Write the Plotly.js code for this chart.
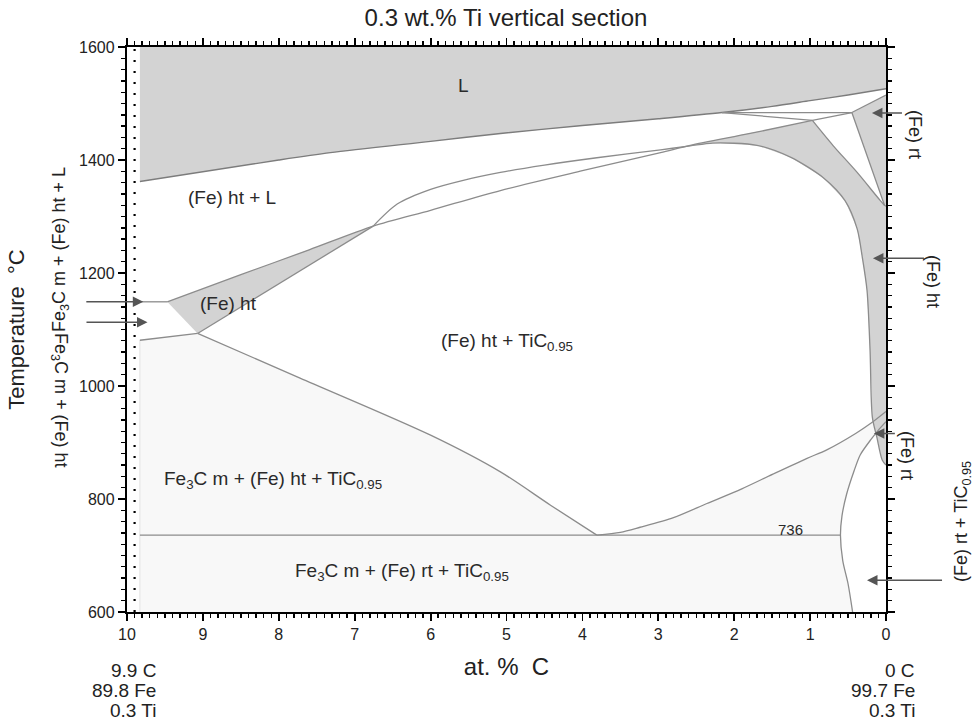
<!DOCTYPE html>
<html>
<head>
<meta charset="utf-8">
<script src="https://cdn.plot.ly/plotly-3.0.1.min.js"></script>
<style>html,body{margin:0;padding:0;background:#fff;}#chart{width:974px;height:725px;}</style>
</head>
<body>
<div id="chart"></div>
<script>
// ---------- data (at.% C , temperature °C) ----------
const liqX = [9.83, 8.0, 7.32, 6.0, 5.08, 4.0, 3.0, 2.16, 1.5, 1.0, 0.5, 0.0];
const liqT = [1362, 1400, 1413, 1433, 1447, 1461, 1473, 1484, 1495, 1505, 1515, 1526];
const topT = 1600;
const leftX = 9.83;

const eutX = [9.83, 9.47];           // 1148 line
const eutT = [1149, 1149];

const solX = [9.47, 8.5, 7.6, 6.756, 6.0, 5.08, 4.0, 2.97, 2.58, 1.79, 0.97];
const solT = [1149, 1197, 1241, 1283, 1311, 1346, 1381, 1413, 1426, 1447, 1470];

const wedgeLowX = [9.07, 6.756];
const wedgeLowT = [1093, 1283];

const arcX = [6.756, 6.44, 6.0, 5.57, 5.08, 4.5, 3.81, 2.97, 2.58, 2.28, 1.70, 1.26, 0.83, 0.54, 0.38, 0.31, 0.25, 0.21, 0.18, 0.12, 0.05, 0.0];
const arcT = [1283, 1322, 1348, 1364, 1378, 1391, 1404, 1418, 1425, 1430, 1426, 1405, 1369, 1328, 1278, 1226, 1169, 1063, 945, 909, 869, 860];

const periX = [2.16, 0.45];
const periT = [1484, 1484];
const sliverX = [2.16, 0.97, 0.45];
const sliverT = [1484, 1470, 1484];
const deltaTopX = [0.45, 0.0];
const deltaTopT = [1484, 1515];
const deltaLeftX = [0.45, 0.02, 0.0];
const deltaLeftT = [1484, 1320, 1318];
const whiteTriX = [0.97, 0.70, 0.38, 0.08, 0.02];
const whiteTriT = [1470, 1426, 1378, 1329, 1320];

const l1X = [9.83, 9.07];
const l1T = [1081, 1093];
const l2X = [9.07, 7.72, 6.0, 5.08, 4.42, 3.81];
const l2T = [1093, 1014, 913, 848, 789, 736];
const eutectoidX = [9.83, 0.6];
const eutectoidT = [736, 736];
const pX = [3.81, 3.5, 3.24, 2.8, 2.36, 1.9, 1.49, 1.04, 0.78, 0.4, 0.2, 0.0];
const pT = [736, 741, 750, 767, 792, 818, 844, 872, 887, 916, 934, 955];
const qX = [0.44, 0.5, 0.57, 0.6, 0.58, 0.52, 0.42, 0.34, 0.2, 0.1, 0.0];
const qT = [600, 650, 691, 736, 770, 808, 850, 878, 905, 922, 937];

const sectionX = 9.9;   // dotted line

// region labels
const labText = ['L', '(Fe) ht + L', '(Fe) ht', '(Fe) ht + TiC<sub>0.95</sub>',
  'Fe<sub>3</sub>C m + (Fe) ht + TiC<sub>0.95</sub>', 'Fe<sub>3</sub>C m + (Fe) rt + TiC<sub>0.95</sub>', '736'];
const labX = [5.57, 8.62, 8.66, 5.0, 8.08, 6.38, 1.26];
const labT = [1532, 1333, 1146, 1078, 833, 670, 746];

// arrows: tip in data coords, tail offset in px
const arrX = [0.185, 0.172, 0.16, 0.25, 9.785, 9.73];
const arrT = [1483, 1226, 916, 656, 1149, 1113];
const arrDx = [33, 54, 24, 78, -60, -64];

// ---------- helpers ----------
const rev = a => a.slice().reverse();
const GRAY = 'rgb(211,211,211)';
const LINE = '#8c8c8c';
const FONT = 'Liberation Sans, Arial, sans-serif';

const traces = [];
function poly(xs, ys, color) {
  traces.push({x: xs, y: ys, type: 'scatter', mode: 'lines', fill: 'toself', fillcolor: color,
    line: {width: 0, color: color}, hoverinfo: 'skip', showlegend: false});
}
function line(xs, ys, opts) {
  opts = opts || {};
  traces.push({x: xs, y: ys, type: 'scatter', mode: 'lines',
    line: {width: opts.w || 1.3, color: opts.c || LINE, dash: opts.dash || 'solid',
           shape: opts.smooth ? 'spline' : 'linear', smoothing: 0.8},
    hoverinfo: 'skip', showlegend: false});
}

// faint three-phase region
poly([leftX].concat(l1X, l2X.slice(1), pX.slice(1), rev(qX)),
     [600].concat(l1T, l2T.slice(1), pT.slice(1), rev(qT)), '#f8f8f8');
// L
poly([leftX, 0].concat(rev(liqX)), [topT, topT].concat(rev(liqT)), GRAY);
// (Fe) ht wedge
poly(solX.slice(0, 4).concat(rev(wedgeLowX)), solT.slice(0, 4).concat(rev(wedgeLowT)), GRAY);
// (Fe) ht band
const cross = 8; // index of 2.58 in solX and arcX
poly(solX.slice(cross).concat(whiteTriX.slice(1), [0, 0], rev(arcX.slice(cross, arcX.length - 1))),
     solT.slice(cross).concat(whiteTriT.slice(1), [1318, 860], rev(arcT.slice(cross, arcT.length - 1))), GRAY);
// (Fe) rt high-T triangle
poly([0.45, 0, 0, 0.02], [1484, 1515, 1318, 1320], GRAY);

// boundaries
line([leftX, leftX], [600, 1081], {c: '#e2e2e2', w: 1});
line(liqX, liqT, {c: '#7c7c7c', w: 1.4, smooth: true});
line(eutX, eutT);
line(solX, solT, {smooth: true});
line(wedgeLowX, wedgeLowT);
line(arcX, arcT, {smooth: true});
line(periX, periT);
line(sliverX, sliverT);
line(deltaTopX, deltaTopT);
line(deltaLeftX, deltaLeftT);
line(whiteTriX, whiteTriT, {smooth: true});
line(l1X, l1T);
line(l2X, l2T, {smooth: true});
line(eutectoidX, eutectoidT);
line(pX, pT, {smooth: true});
line(qX, qT, {smooth: true});
line([sectionX, sectionX], [600, 1600], {c: '#000', w: 2.2, dash: '2px,9px'});

// ---------- layout ----------
const L = 127, R = 88, T = 47, B = 113, W = 974 - L - R, H = 725 - T - B;
const fx = px => (px - L) / W;
const fy = py => (725 - B - py) / H;

const ann = [];
labText.forEach((t, i) => ann.push({x: labX[i], y: labT[i], xref: 'x', yref: 'y', text: t, showarrow: false,
  font: {family: FONT, size: i === 6 ? 15 : 19, color: '#2a2a2a'}}));

arrX.forEach((x, i) => ann.push({x: x, y: arrT[i], xref: 'x', yref: 'y', text: ' ', showarrow: true,
  ax: arrDx[i], ay: 0, arrowhead: 2, arrowsize: 1.4, arrowwidth: 1.5, arrowcolor: '#555', standoff: 0}));

function side(text, px, py, angle, size) {
  ann.push({x: fx(px), y: fy(py), xref: 'paper', yref: 'paper', text: text, textangle: angle, showarrow: false,
    xanchor: 'center', yanchor: 'middle', font: {family: FONT, size: size || 19, color: '#222'}});
}
side('Fe<sub>3</sub>C m + (Fe) ht + L', 60, 250, -90, 18);
side('Fe<sub>3</sub>C m + (Fe) ht', 60, 400, 90, 18);
side('(Fe) rt', 915, 134, 90, 18);
side('(Fe) ht', 933, 281, 90, 18);
side('(Fe) rt', 907, 455, 90, 18);
side('(Fe) rt + TiC<sub>0.95</sub>', 962, 522, -90, 18);

const leftComp = ['9.9 C', '89.8 Fe', '0.3 Ti'];
const rightComp = ['0 C', '99.7 Fe', '0.3 Ti'];
[670, 690, 710].forEach((py, i) => {
  ann.push({x: fx(158), y: fy(py), xref: 'paper', yref: 'paper', text: leftComp[i], showarrow: false,
    xanchor: 'right', yanchor: 'middle', font: {family: FONT, size: 19, color: '#222'}});
  ann.push({x: fx(917), y: fy(py), xref: 'paper', yref: 'paper', text: rightComp[i], showarrow: false,
    xanchor: 'right', yanchor: 'middle', font: {family: FONT, size: 19, color: '#222'}});
});

const axisCommon = {
  showline: true, linewidth: 2.2, linecolor: '#000', mirror: 'allticks',
  ticks: 'outside', ticklen: 7, tickwidth: 1.8, tickcolor: '#000',
  showgrid: false, zeroline: false, automargin: false,
  tickfont: {family: FONT, size: 16, color: '#222'}
};

const layout = {
  width: 974, height: 725,
  margin: {l: L, r: R, t: T, b: B},
  paper_bgcolor: '#fff', plot_bgcolor: '#fff',
  showlegend: false,
  title: {text: '0.3 wt.% Ti vertical section', x: fx(506), xref: 'paper', y: 1 - 18 / 725, yref: 'container',
    xanchor: 'center', yanchor: 'middle', font: {family: FONT, size: 24, color: '#222'}},
  xaxis: Object.assign({}, axisCommon, {
    range: [10, 0], tickmode: 'linear', tick0: 0, dtick: 1,
    minor: {tickmode: 'linear', dtick: 0.1, tick0: 0, ticks: 'outside', ticklen: 4, tickwidth: 1.4, tickcolor: '#000', showgrid: false},
    title: {text: 'at. %  C', standoff: 16, font: {family: FONT, size: 24, color: '#222'}}
  }),
  yaxis: Object.assign({}, axisCommon, {
    range: [600, 1600], tickmode: 'linear', tick0: 600, dtick: 200,
    minor: {tickmode: 'linear', dtick: 20, tick0: 600, ticks: 'outside', ticklen: 4, tickwidth: 1.4, tickcolor: '#000', showgrid: false},
    title: {text: 'Temperature  °C', standoff: 48, font: {family: FONT, size: 22, color: '#222'}}
  }),
  annotations: ann
};

Plotly.newPlot('chart', traces, layout, {displayModeBar: false, staticPlot: true});
</script>
</body>
</html>
